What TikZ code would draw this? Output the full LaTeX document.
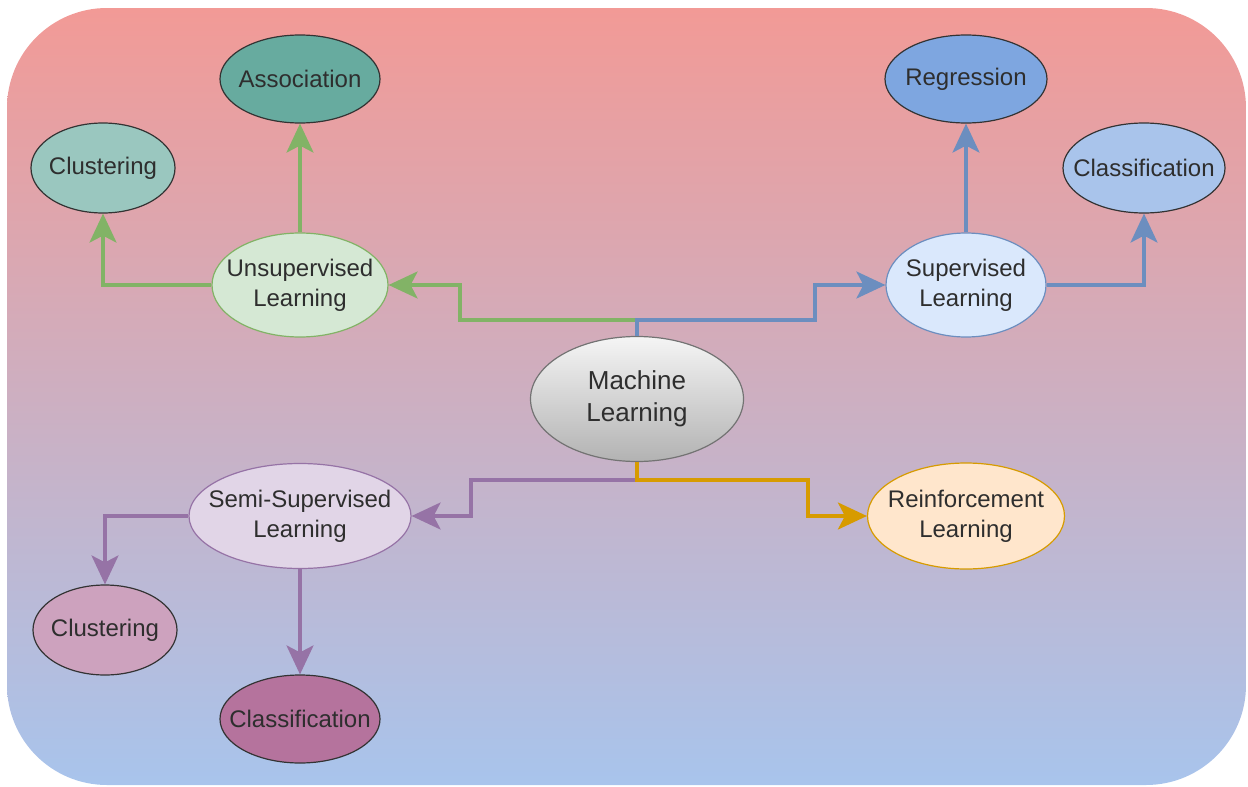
\documentclass[tikz,border=0pt]{standalone}
\usepackage{fontspec}
\setmainfont{Liberation Sans}
\usetikzlibrary{shapes.geometric,arrows.meta,calc}

\definecolor{bgtop}{HTML}{F29A96}
\definecolor{bgmid}{HTML}{D2AABF}
\definecolor{bgbot}{HTML}{A8C4EC}
\definecolor{txtc}{HTML}{2E2E2E}
\definecolor{lgreen}{HTML}{82B366}
\definecolor{lblue}{HTML}{6C8EBF}
\definecolor{lpurple}{HTML}{9673A6}
\definecolor{lorange}{HTML}{D79B00}

\tikzset{
  bubble/.style={ellipse, inner sep=0pt, line width=1.2pt},
  leaf/.style={bubble, draw=black!80, minimum width=160pt, minimum height=88pt},
  lbl/.style={align=center, text=txtc, font=\fontsize{24}{30}\selectfont, inner sep=0pt},
  conn/.style={line width=3.2pt, -{Stealth[length=29pt,width=27pt,inset=7pt]}},
}

\begin{document}
\begin{tikzpicture}[x=1pt,y=-1pt]
\useasboundingbox (0,0) rectangle (1248,787);

% background panel
\shade[top color=bgtop, middle color=bgmid, bottom color=bgbot, rounded corners=100pt]
  (7,8) rectangle (1246,785);

% nodes
\node[bubble, draw=black!55, top color=white!96!black, bottom color=black!30, minimum width=213pt, minimum height=125pt] (ml) at (637,399) {};
\node[lbl, font=\fontsize{26}{32}\selectfont] at (ml) {Machine\\Learning};

\node[bubble, draw=lgreen, fill={rgb,255:red,213;green,232;blue,212}, minimum width=176pt, minimum height=104pt] (unsup) at (300,285) {};
\node[lbl] at (unsup) {Unsupervised\\Learning};

\node[bubble, draw=lblue, fill={rgb,255:red,218;green,232;blue,252}, minimum width=160pt, minimum height=104pt] (sup) at (966,285) {};
\node[lbl] at (sup) {Supervised\\Learning};

\node[bubble, draw=lpurple, fill={rgb,255:red,225;green,213;blue,231}, minimum width=222pt, minimum height=105pt] (semi) at (300,516) {};
\node[lbl] at (semi) {Semi-Supervised\\Learning};

\node[bubble, draw=lorange, fill={rgb,255:red,255;green,230;blue,204}, minimum width=197pt, minimum height=106pt] (rl) at (966,516) {};
\node[lbl] at (rl) {Reinforcement\\Learning};

\node[leaf, fill={rgb,255:red,103;green,171;blue,159}] (assoc) at (300,79) {};
\node[lbl] at (assoc) {Association};

\node[leaf, fill={rgb,255:red,154;green,199;blue,191}, minimum width=144pt, minimum height=90pt] (clus1) at (103,168) {};
\node[lbl] at (clus1) {Clustering};

\node[leaf, fill={rgb,255:red,126;green,166;blue,224}, minimum width=162pt] (reg) at (966,79) {};
\node[lbl] at (reg) {Regression};

\node[leaf, fill={rgb,255:red,169;green,196;blue,235}, minimum width=162pt, minimum height=90pt] (cls1) at (1144,168) {};
\node[lbl] at (cls1) {Classification};

\node[leaf, fill={rgb,255:red,205;green,162;blue,190}, minimum width=144pt, minimum height=90pt] (clus2) at (105,630) {};
\node[lbl] at (clus2) {Clustering};

\node[leaf, fill={rgb,255:red,181;green,115;blue,157}] (cls2) at (300,719) {};
\node[lbl] at (cls2) {Classification};

% connectors from the root
\draw[conn, lgreen] (ml.north) |- (460,320) |- (unsup.east);
\draw[conn, lblue] (ml.north) |- (815,320) |- (sup.west);
\draw[conn, lpurple] (ml.south) |- (471,480) |- (semi.east);
\draw[conn, lorange] (ml.south) |- (808,480) |- (rl.west);

% second level connectors
\draw[conn, lgreen] (unsup.north) -- (assoc.south);
\draw[conn, lgreen] (unsup.west) -| (clus1.south);
\draw[conn, lblue] (sup.north) -- (reg.south);
\draw[conn, lblue] (sup.east) -| (cls1.south);
\draw[conn, lpurple] (semi.west) -| (clus2.north);
\draw[conn, lpurple] (semi.south) -- (cls2.north);
\end{tikzpicture}
\end{document}
